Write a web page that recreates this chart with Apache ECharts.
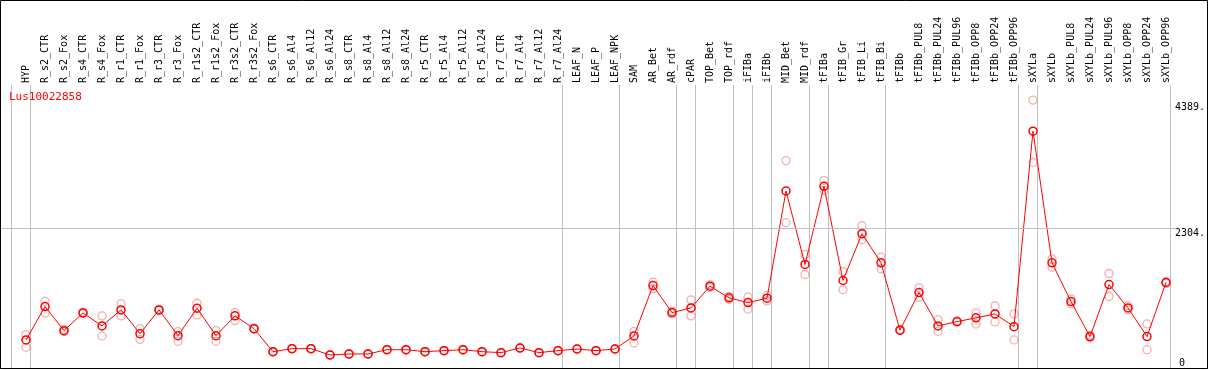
<!DOCTYPE html>
<html>
<head>
<meta charset="utf-8">
<title>Lus10022858</title>
<script src="https://cdn.jsdelivr.net/npm/echarts@6/dist/echarts.min.js"></script>
<style>
  html, body { margin: 0; padding: 0; background: #fff; }
  #chart { width: 1209px; height: 370px; }
</style>
</head>
<body>
<div id="chart"></div>
<script>
// sample names, left to right
const categories = ['HYP', 'R_s2_CTR', 'R_s2_Fox', 'R_s4_CTR', 'R_s4_Fox', 'R_r1_CTR', 'R_r1_Fox', 'R_r3_CTR', 'R_r3_Fox',
  'R_r1s2_CTR', 'R_r1s2_Fox', 'R_r3s2_CTR', 'R_r3s2_Fox', 'R_s6_CTR', 'R_s6_Al4', 'R_s6_Al12', 'R_s6_Al24',
  'R_s8_CTR', 'R_s8_Al4', 'R_s8_Al12', 'R_s8_Al24', 'R_r5_CTR', 'R_r5_Al4', 'R_r5_Al12', 'R_r5_Al24',
  'R_r7_CTR', 'R_r7_Al4', 'R_r7_Al12', 'R_r7_Al24', 'LEAF_N', 'LEAF_P', 'LEAF_NPK', 'SAM', 'AR_Bet', 'AR_rdf',
  'cPAR', 'TOP_Bet', 'TOP_rdf', 'iFIBa', 'iFIBb', 'MID_Bet', 'MID_rdf', 'tFIBa', 'tFIB_Gr', 'tFIB_Li', 'tFIB_Bi',
  'tFIBb', 'tFIBb_PUL8', 'tFIBb_PUL24', 'tFIBb_PUL96', 'tFIBb_OPP8', 'tFIBb_OPP24', 'tFIBb_OPP96',
  'sXYLa', 'sXYLb', 'sXYLb_PUL8', 'sXYLb_PUL24', 'sXYLb_PUL96', 'sXYLb_OPP8', 'sXYLb_OPP24', 'sXYLb_OPP96']

// mean expression
const means = [464, 1016, 618, 911, 696, 961, 568, 961, 535, 988, 535, 862, 651, 270, 320, 320, 215,
  232, 232, 303, 303, 270, 287, 303, 270, 254, 331, 254, 287, 314, 287, 314, 530, 1364, 916,
  994, 1353, 1160, 1082, 1154, 2927, 1712, 3005, 1447, 2221, 1740,
  625, 1248, 696, 767, 829, 895, 684, 3916, 1740, 1099, 519, 1380, 994, 519, 1414]

// replicates (pink circles)
const repA = [552, 1104, 640, 925, 862, 1061, 651, 975, 602, 1071, 618, 916, 660, 275, 325, 325, 220,
  236, 236, 308, 308, 275, 292, 308, 275, 258, 336, 258, 292, 318, 292, 318, 607, 1419, 940,
  1127, 1380, 1185, 1171, 1200, 3430, 1878, 3104, 1596, 2353, 1833,
  635, 1326, 800, 775, 911, 1027, 895, 4430, 1806, 1140, 545, 1563, 1030, 729, 1430]
const repB = [342, 911, 600, 900, 530, 862, 474, 950, 441, 878, 441, 784, 645, 265, 315, 315, 210,
  228, 228, 298, 298, 265, 282, 298, 265, 250, 326, 250, 282, 310, 282, 310, 414, 1309, 895,
  862, 1330, 1135, 972, 1110, 2403, 1546, 2938, 1293, 2121, 1641,
  615, 1171, 607, 760, 729, 762, 464, 3397, 1667, 1060, 500, 1182, 960, 303, 1400]

// group separators sit just right of these samples
const groupEnds = [-1, 0, 28, 31, 34, 35, 37, 38, 39, 41, 42, 45, 52, 53, 60]
const yTicks = [2304, 4389]

const mono = 'DejaVu Sans Mono'
const xMin = -1.316
const xMax = 62.158

const chart = echarts.init(document.getElementById('chart'))

const pts = means.map((v, i) => [i, v])
const reps = repA.map((v, i) => [i, v]).concat(repB.map((v, i) => [i, v]))

chart.setOption({
  animation: false,
  title: {
    text: 'Lus10022858',
    left: 9,
    top: 92,
    padding: 0,
    textStyle: { color: '#ff0000', fontSize: 11, fontWeight: 'normal', fontFamily: mono }
  },
  grid: { left: 1, right: 2, top: 85, bottom: 2 },
  xAxis: [
    {
      type: 'value',
      position: 'top',
      min: xMin,
      max: xMax,
      axisLine: { show: true, lineStyle: { color: '#000', width: 1 } },
      axisTick: { show: false },
      splitLine: { show: false },
      axisLabel: {
        customValues: categories.map((c, i) => i),
        formatter: v => categories[v],
        rotate: 90,
        margin: 2,
        color: '#000',
        fontSize: 10,
        fontFamily: mono
      }
    },
    {
      // separators, running up through the header
      type: 'value',
      position: 'top',
      min: xMin,
      max: xMax,
      axisLine: { show: false },
      axisLabel: { show: false },
      axisTick: {
        show: true,
        customValues: groupEnds.map(i => i + 0.24),
        length: 85,
        lineStyle: { color: '#c0c0c0', width: 1 }
      },
      splitLine: { show: true, lineStyle: { color: '#c0c0c0', width: 1 } }
    }
  ],
  yAxis: [
    {
      type: 'value',
      position: 'right',
      min: 0,
      max: 4680,
      axisLine: { show: false },
      axisTick: { show: false },
      splitLine: { show: false },
      axisLabel: {
        inside: true,
        customValues: yTicks,
        formatter: v => v + '.',
        verticalAlign: 'top',
        margin: 2,
        color: '#000',
        fontSize: 10,
        fontFamily: mono
      }
    },
    {
      type: 'value',
      position: 'right',
      min: 0,
      max: 4680,
      axisLine: { show: false },
      axisTick: { show: false },
      splitLine: { show: false },
      axisLabel: {
        inside: true,
        customValues: [0],
        verticalAlign: 'bottom',
        margin: 22,
        color: '#000',
        fontSize: 10,
        fontFamily: mono
      }
    }
  ],
  series: [
    {
      name: 'reps',
      type: 'scatter',
      xAxisIndex: 0,
      yAxisIndex: 0,
      symbol: 'circle',
      symbolSize: 8,
      itemStyle: { color: 'rgba(0,0,0,0)', borderColor: '#f09a9a', borderWidth: 1.3 },
      data: reps,
      z: 2
    },
    {
      name: 'mean',
      type: 'line',
      xAxisIndex: 0,
      yAxisIndex: 0,
      symbol: 'circle',
      symbolSize: 8,
      showAllSymbol: true,
      itemStyle: { color: 'rgba(0,0,0,0)', borderColor: '#ff0000', borderWidth: 1.5 },
      lineStyle: { color: '#ff0000', width: 1 },
      data: pts,
      z: 3,
      markLine: {
        silent: true,
        symbol: 'none',
        label: { show: false },
        lineStyle: { color: '#c0c0c0', width: 1, type: 'solid' },
        data: [[{ coord: [xMin, yTicks[0]] }, { coord: [60.53, yTicks[0]] }]]
      }
    }
  ],
  graphic: [
    {
      type: 'rect',
      shape: { x: 0.5, y: 0.5, width: 1207, height: 368 },
      style: { fill: null, stroke: '#000', lineWidth: 1 },
      silent: true,
      z: 100
    }
  ]
})
</script>
</body>
</html>
